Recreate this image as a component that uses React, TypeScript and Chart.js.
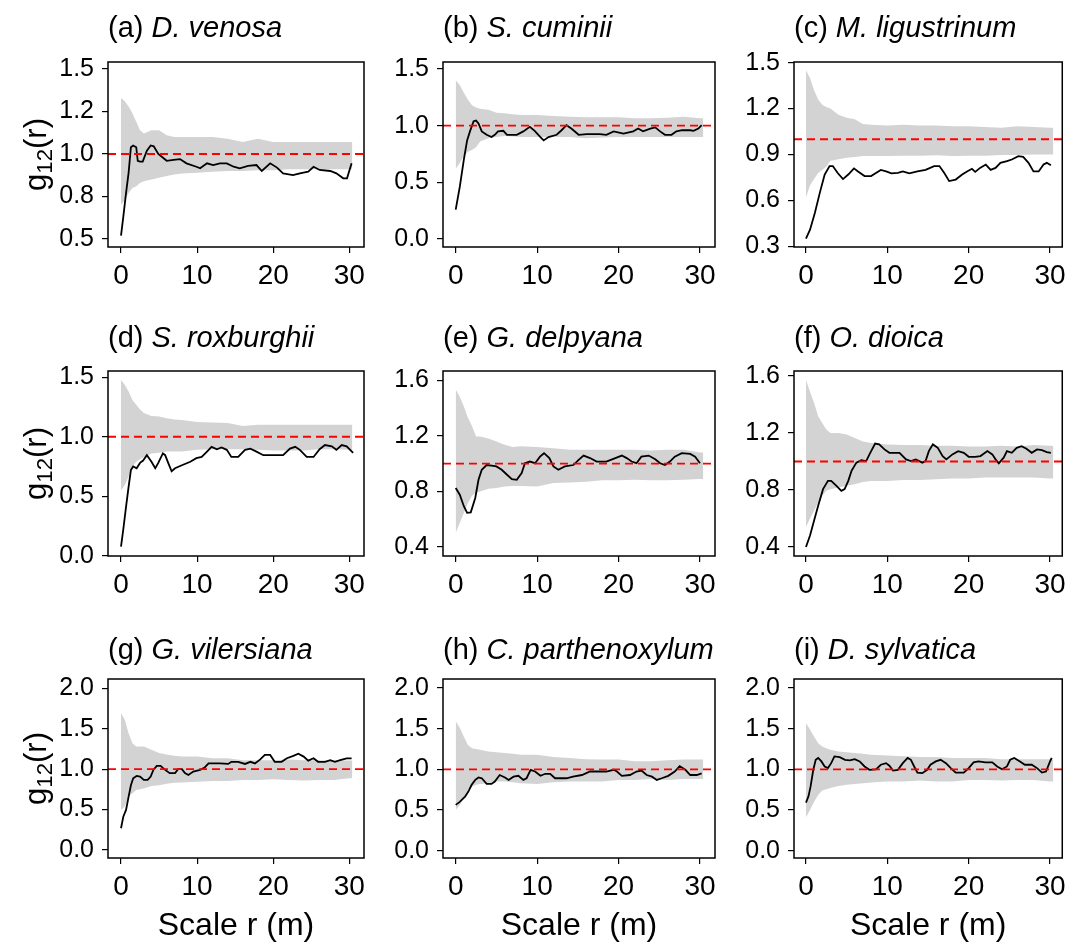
import React, { useEffect, useRef } from "react";
import { Chart, registerables } from "chart.js";

Chart.register(...registerables);

const FONT = "'Liberation Sans', Arial, sans-serif";

const X_TICKS = [0, 10, 20, 30];
const REF_VALUE = 1;
const ENV_R = [0, 0.5, 1, 1.5, 2, 2.5, 3, 4, 5, 6, 7, 8, 10, 12, 14, 16, 18, 20, 22, 24, 26, 28, 30, 30.4];

// (a) D. venosa
const A_R = [0, 0.3, 0.66, 1, 1.3, 1.6, 2, 2.2, 2.5, 2.85, 3.4, 3.9, 4.3, 4.9, 5.6, 6, 6.9, 7.75, 8.6, 9.9, 10.4, 11.3, 12.1, 13, 13.9, 14.8, 15.6, 16.7, 17.8, 18.5, 19.6, 20.5, 21.3, 22.6, 23.5, 24.6, 25.3, 26.1, 27.5, 28.3, 29.2, 29.7, 30.3];
const A_G = [0.52, 0.63, 0.77, 0.89, 1.04, 1.05, 1.04, 0.96, 0.955, 0.955, 1.02, 1.05, 1.045, 1.0, 0.975, 0.96, 0.965, 0.97, 0.945, 0.925, 0.916, 0.945, 0.935, 0.945, 0.945, 0.925, 0.916, 0.93, 0.935, 0.9, 0.945, 0.92, 0.886, 0.876, 0.886, 0.896, 0.925, 0.906, 0.9, 0.886, 0.857, 0.857, 0.945];
const A_HI = [1.33, 1.31, 1.28, 1.24, 1.19, 1.14, 1.12, 1.14, 1.14, 1.11, 1.1, 1.1, 1.1, 1.1, 1.09, 1.07, 1.09, 1.07, 1.07, 1.07, 1.07, 1.07, 1.07, 1.07];
const A_LO = [0.7, 0.73, 0.77, 0.8, 0.81, 0.83, 0.84, 0.85, 0.86, 0.87, 0.88, 0.885, 0.89, 0.895, 0.9, 0.9, 0.905, 0.905, 0.91, 0.91, 0.91, 0.91, 0.91, 0.91];
const A_YTICKS = [0.5, 0.75, 1.0, 1.25, 1.5];
const A_YLABELS = ["0.5", "0.8", "1.0", "1.2", "1.5"];

// (b) S. cuminii
const B_R = [0, 0.5, 1, 1.4, 1.75, 2.2, 2.5, 2.8, 3.2, 3.8, 4.4, 4.8, 5.2, 5.85, 6.3, 7.5, 8.3, 9.1, 9.7, 10.4, 10.8, 11.4, 12.4, 13, 13.6, 14.2, 15.1, 16.1, 17.7, 18.5, 19.4, 20.6, 21.8, 22.4, 23, 23.9, 24.5, 25.1, 25.7, 26.5, 27.1, 27.8, 28.8, 29.2, 29.8, 30.2];
const B_G = [0.26, 0.46, 0.7, 0.87, 0.95, 1.04, 1.045, 1.02, 0.95, 0.92, 0.9, 0.92, 0.95, 0.955, 0.92, 0.92, 0.95, 0.99, 0.955, 0.9, 0.87, 0.9, 0.92, 0.96, 1.005, 0.975, 0.92, 0.925, 0.925, 0.92, 0.95, 0.93, 0.95, 0.975, 0.95, 0.975, 0.985, 0.95, 0.92, 0.92, 0.95, 0.96, 0.96, 0.955, 0.975, 1.005];
const B_HI = [1.4, 1.36, 1.29, 1.23, 1.18, 1.16, 1.15, 1.14, 1.115, 1.11, 1.1, 1.095, 1.095, 1.085, 1.08, 1.075, 1.075, 1.075, 1.065, 1.065, 1.07, 1.08, 1.065, 1.065];
const B_LO = [0.62, 0.67, 0.73, 0.77, 0.785, 0.81, 0.86, 0.89, 0.9, 0.91, 0.905, 0.9, 0.9, 0.9, 0.9, 0.89, 0.895, 0.9, 0.9, 0.9, 0.9, 0.9, 0.9, 0.9];
const B_YTICKS = [0, 0.5, 1.0, 1.5];
const B_YLABELS = ["0.0", "0.5", "1.0", "1.5"];

// (c) M. ligustrinum
const C_R = [0, 0.5, 1.1, 1.7, 2.3, 2.9, 3.3, 3.9, 4.55, 5.2, 5.9, 6.4, 7.2, 8, 8.6, 9.2, 9.85, 10.5, 11.3, 11.9, 12.7, 13.7, 14.7, 15.75, 16.4, 17, 17.6, 18.4, 19.2, 19.8, 20.4, 20.8, 21.4, 22.1, 22.7, 23.3, 23.9, 24.7, 25.3, 26.1, 26.7, 27.35, 27.96, 28.6, 29.2, 29.6, 30.1];
const C_G = [0.352, 0.41, 0.52, 0.65, 0.77, 0.825, 0.825, 0.78, 0.74, 0.77, 0.81, 0.79, 0.76, 0.76, 0.78, 0.8, 0.79, 0.777, 0.78, 0.79, 0.777, 0.79, 0.8, 0.825, 0.825, 0.78, 0.727, 0.737, 0.77, 0.79, 0.807, 0.787, 0.813, 0.835, 0.8, 0.813, 0.846, 0.857, 0.868, 0.89, 0.885, 0.846, 0.79, 0.79, 0.835, 0.846, 0.83];
const C_HI = [1.45, 1.4, 1.32, 1.26, 1.225, 1.21, 1.2, 1.16, 1.14, 1.13, 1.1, 1.095, 1.09, 1.095, 1.09, 1.09, 1.085, 1.085, 1.08, 1.075, 1.085, 1.08, 1.075, 1.075];
const C_LO = [0.62, 0.7, 0.74, 0.78, 0.8, 0.82, 0.86, 0.87, 0.88, 0.885, 0.89, 0.89, 0.89, 0.893, 0.893, 0.895, 0.89, 0.893, 0.893, 0.897, 0.897, 0.9, 0.9, 0.9];
const C_YTICKS = [0.3, 0.6, 0.9, 1.2, 1.5];
const C_YLABELS = ["0.3", "0.6", "0.9", "1.2", "1.5"];

// (d) S. roxburghii
const D_R = [0, 0.3, 0.66, 1, 1.3, 1.6, 2.05, 2.5, 2.9, 3.4, 4, 4.5, 4.9, 5.5, 5.8, 6.2, 6.65, 7.1, 8, 9.1, 9.9, 10.6, 11.3, 11.9, 12.6, 13.2, 13.9, 14.5, 15.4, 16.3, 17, 17.8, 18.7, 20, 21.3, 22.2, 22.9, 23.5, 24.4, 25.3, 26.1, 26.8, 27.7, 28.3, 29, 29.65, 30.5];
const D_G = [0.076, 0.22, 0.41, 0.58, 0.72, 0.75, 0.735, 0.78, 0.8, 0.845, 0.79, 0.735, 0.78, 0.86, 0.845, 0.78, 0.71, 0.735, 0.76, 0.79, 0.82, 0.83, 0.875, 0.915, 0.895, 0.91, 0.89, 0.83, 0.83, 0.89, 0.9, 0.875, 0.845, 0.845, 0.845, 0.9, 0.915, 0.89, 0.83, 0.83, 0.895, 0.93, 0.92, 0.89, 0.93, 0.92, 0.865];
const D_HI = [1.48, 1.435, 1.38, 1.31, 1.27, 1.23, 1.2, 1.175, 1.17, 1.155, 1.145, 1.14, 1.125, 1.12, 1.115, 1.09, 1.1, 1.1, 1.1, 1.1, 1.1, 1.1, 1.1, 1.1];
const D_LO = [0.55, 0.595, 0.665, 0.75, 0.79, 0.81, 0.83, 0.86, 0.865, 0.875, 0.875, 0.875, 0.89, 0.895, 0.895, 0.895, 0.89, 0.885, 0.885, 0.885, 0.895, 0.895, 0.89, 0.89];
const D_YTICKS = [0, 0.5, 1.0, 1.5];
const D_YLABELS = ["0.0", "0.5", "1.0", "1.5"];

// (e) G. delpyana
const E_R = [0, 0.5, 1, 1.4, 1.85, 2.4, 2.8, 3.2, 3.8, 4.4, 5, 5.65, 6.3, 6.9, 7.5, 8.1, 8.5, 9.1, 9.75, 10.35, 10.85, 11.5, 12, 12.6, 13.4, 14.45, 15.1, 15.7, 16.5, 17.3, 18.5, 19.6, 20.4, 21, 21.6, 22.2, 22.8, 23.7, 24.5, 25.1, 25.7, 26.3, 26.9, 27.75, 28.8, 29.4, 30];
const E_G = [0.825, 0.777, 0.694, 0.646, 0.65, 0.753, 0.884, 0.956, 0.99, 0.985, 0.98, 0.956, 0.92, 0.889, 0.884, 0.932, 1.003, 1.015, 1.003, 1.05, 1.075, 1.04, 0.98, 0.956, 0.98, 0.99, 1.027, 1.058, 1.04, 1.015, 1.015, 1.04, 1.058, 1.04, 1.015, 1.003, 1.05, 1.058, 1.032, 1.003, 0.99, 1.015, 1.05, 1.075, 1.07, 1.05, 1.003];
const E_HI = [1.533, 1.48, 1.41, 1.33, 1.27, 1.195, 1.195, 1.18, 1.16, 1.135, 1.12, 1.125, 1.12, 1.11, 1.1, 1.1, 1.1, 1.1, 1.1, 1.094, 1.1, 1.1, 1.08, 1.08];
const E_LO = [0.503, 0.574, 0.645, 0.717, 0.77, 0.79, 0.8, 0.82, 0.825, 0.835, 0.84, 0.84, 0.835, 0.86, 0.865, 0.87, 0.88, 0.88, 0.885, 0.88, 0.88, 0.885, 0.89, 0.89];
const E_YTICKS = [0.4, 0.8, 1.2, 1.6];
const E_YLABELS = ["0.4", "0.8", "1.2", "1.6"];

// (f) O. dioica
const F_R = [0, 0.5, 1, 1.5, 2.1, 2.7, 3.1, 3.75, 4.35, 4.75, 5.2, 5.6, 6.2, 6.8, 7.4, 7.9, 8.5, 9, 9.65, 10.25, 11.5, 12.3, 12.9, 13.5, 14.3, 14.7, 15.1, 15.6, 16.2, 16.8, 17.25, 18, 18.7, 19.4, 20, 20.8, 21.45, 22.3, 22.9, 23.3, 23.7, 24.3, 24.7, 25.3, 25.9, 26.5, 27.1, 27.75, 28.4, 29, 29.6, 30.1];
const F_G = [0.4, 0.481, 0.586, 0.69, 0.806, 0.864, 0.864, 0.829, 0.794, 0.806, 0.864, 0.934, 0.992, 1.01, 1.003, 1.061, 1.126, 1.12, 1.085, 1.061, 1.061, 1.015, 1.003, 1.015, 0.992, 1.003, 1.073, 1.12, 1.096, 1.038, 1.015, 1.05, 1.073, 1.061, 1.033, 1.033, 1.038, 1.073, 1.05, 1.015, 0.987, 1.027, 1.073, 1.061, 1.096, 1.108, 1.09, 1.061, 1.085, 1.08, 1.066, 1.061];
const F_HI = [1.572, 1.49, 1.41, 1.317, 1.27, 1.225, 1.2, 1.2, 1.19, 1.165, 1.14, 1.13, 1.12, 1.115, 1.115, 1.11, 1.11, 1.105, 1.105, 1.11, 1.105, 1.115, 1.11, 1.11];
const F_LO = [0.54, 0.6, 0.655, 0.713, 0.76, 0.795, 0.806, 0.818, 0.83, 0.84, 0.857, 0.864, 0.864, 0.871, 0.871, 0.875, 0.88, 0.88, 0.887, 0.887, 0.887, 0.887, 0.88, 0.88];
const F_YTICKS = [0.4, 0.8, 1.2, 1.6];
const F_YLABELS = ["0.4", "0.8", "1.2", "1.6"];

// (g) G. vilersiana
const G_R = [0, 0.3, 0.66, 1, 1.3, 1.6, 2.05, 2.5, 3, 3.5, 3.9, 4.25, 4.7, 5.2, 5.8, 6.4, 7.1, 7.5, 8, 8.4, 8.85, 9.5, 10.4, 11, 11.5, 13, 14.1, 14.5, 15.4, 16.3, 17, 17.6, 18.3, 18.9, 19.6, 20.2, 21.1, 21.8, 22.65, 23.3, 24, 24.6, 25.3, 25.9, 26.8, 27.5, 28.1, 28.8, 29.65, 30.3];
const G_G = [0.268, 0.41, 0.495, 0.66, 0.8, 0.886, 0.915, 0.907, 0.866, 0.866, 0.907, 0.99, 1.04, 1.04, 0.99, 0.95, 0.95, 1.0, 1.0, 0.95, 0.928, 0.97, 0.99, 1.02, 1.07, 1.07, 1.064, 1.09, 1.09, 1.064, 1.09, 1.07, 1.12, 1.175, 1.175, 1.09, 1.09, 1.134, 1.163, 1.19, 1.155, 1.105, 1.134, 1.09, 1.09, 1.11, 1.09, 1.11, 1.134, 1.134];
const G_HI = [1.69, 1.61, 1.44, 1.32, 1.28, 1.28, 1.28, 1.24, 1.2, 1.18, 1.165, 1.155, 1.155, 1.134, 1.134, 1.11, 1.11, 1.11, 1.12, 1.11, 1.11, 1.105, 1.105, 1.105];
const G_LO = [0.495, 0.536, 0.66, 0.7, 0.74, 0.75, 0.76, 0.79, 0.8, 0.82, 0.83, 0.835, 0.845, 0.853, 0.853, 0.866, 0.866, 0.874, 0.866, 0.86, 0.866, 0.866, 0.886, 0.886];
const G_YTICKS = [0, 0.5, 1.0, 1.5, 2.0];
const G_YLABELS = ["0.0", "0.5", "1.0", "1.5", "2.0"];

// (h) C. parthenoxylum
const H_R = [0, 0.5, 1.15, 1.55, 1.96, 2.4, 2.8, 3.2, 3.8, 4.4, 4.8, 5.4, 6.05, 6.5, 7.1, 7.7, 8.3, 8.7, 9.2, 9.75, 10.4, 11, 11.6, 12.2, 13.6, 14.4, 15.5, 16.5, 18.5, 19.4, 19.8, 20.4, 21.4, 22.2, 22.8, 23.45, 24.1, 24.7, 25.3, 26.1, 26.9, 27.5, 28.2, 28.8, 29.6, 30.2];
const H_G = [0.563, 0.6, 0.665, 0.727, 0.81, 0.87, 0.9, 0.89, 0.82, 0.82, 0.85, 0.93, 0.9, 0.87, 0.91, 0.92, 0.87, 0.89, 0.994, 0.973, 0.92, 0.945, 0.945, 0.89, 0.89, 0.91, 0.93, 0.973, 0.973, 0.994, 0.973, 0.92, 0.93, 0.973, 0.985, 0.93, 0.91, 0.87, 0.89, 0.92, 0.973, 1.04, 0.994, 0.93, 0.93, 0.95];
const H_HI = [1.59, 1.51, 1.4, 1.3, 1.26, 1.25, 1.24, 1.22, 1.21, 1.2, 1.19, 1.18, 1.18, 1.15, 1.14, 1.125, 1.12, 1.12, 1.1, 1.1, 1.11, 1.12, 1.12, 1.12];
const H_LO = [0.5, 0.56, 0.665, 0.75, 0.79, 0.81, 0.82, 0.83, 0.85, 0.85, 0.84, 0.83, 0.82, 0.84, 0.85, 0.85, 0.85, 0.87, 0.87, 0.88, 0.87, 0.88, 0.88, 0.88];
const H_YTICKS = [0, 0.5, 1.0, 1.5, 2.0];
const H_YLABELS = ["0.0", "0.5", "1.0", "1.5", "2.0"];

// (i) D. sylvatica
const I_R = [0, 0.3, 0.57, 0.9, 1.2, 1.5, 1.9, 2.3, 2.7, 3.1, 3.5, 4.15, 4.8, 5.4, 6, 6.6, 7.2, 7.8, 8.6, 9.2, 9.85, 10.25, 10.7, 11.3, 11.9, 12.5, 12.9, 13.3, 13.7, 14.3, 14.9, 15.3, 15.95, 16.55, 17.2, 17.8, 18.4, 19.4, 20, 20.6, 21.2, 22.05, 22.9, 23.5, 24.1, 24.7, 25.1, 25.6, 26.3, 26.9, 27.75, 28.4, 29, 29.5, 30, 30.2];
const I_G = [0.59, 0.665, 0.79, 0.994, 1.117, 1.14, 1.097, 1.035, 1.015, 1.076, 1.158, 1.15, 1.117, 1.11, 1.125, 1.097, 1.035, 0.994, 1.0, 1.056, 1.076, 1.044, 0.985, 0.994, 1.076, 1.14, 1.117, 1.035, 0.96, 0.953, 0.994, 1.056, 1.097, 1.117, 1.076, 1.015, 0.96, 0.96, 1.015, 1.085, 1.097, 1.085, 1.085, 1.035, 1.0, 1.035, 1.117, 1.14, 1.097, 1.056, 1.056, 1.015, 0.96, 0.973, 1.097, 1.14];
const I_HI = [1.57, 1.49, 1.4, 1.32, 1.28, 1.26, 1.24, 1.22, 1.21, 1.2, 1.19, 1.18, 1.17, 1.16, 1.15, 1.15, 1.14, 1.14, 1.14, 1.125, 1.125, 1.125, 1.125, 1.125];
const I_LO = [0.41, 0.5, 0.6, 0.685, 0.74, 0.755, 0.77, 0.795, 0.81, 0.82, 0.83, 0.838, 0.85, 0.85, 0.862, 0.85, 0.85, 0.87, 0.87, 0.862, 0.87, 0.87, 0.85, 0.85];
const I_YTICKS = [0, 0.5, 1.0, 1.5, 2.0];
const I_YLABELS = ["0.0", "0.5", "1.0", "1.5", "2.0"];

const LETTERS = ["(a)", "(b)", "(c)", "(d)", "(e)", "(f)", "(g)", "(h)", "(i)"];
const SPECIES = ["D. venosa", "S. cuminii", "M. ligustrinum", "S. roxburghii", "G. delpyana", "O. dioica", "G. vilersiana", "C. parthenoxylum", "D. sylvatica"];
const Y_TITLE_MAIN = "g";
const Y_TITLE_SUB = "12";
const Y_TITLE_END = "(r)";
const X_TITLE = "Scale r (m)";

const SERIES = [
  { r: A_R, g: A_G, hi: A_HI, lo: A_LO, ticks: A_YTICKS, labels: A_YLABELS, ymin: 0.453, ymax: 1.541 },
  { r: B_R, g: B_G, hi: B_HI, lo: B_LO, ticks: B_YTICKS, labels: B_YLABELS, ymin: -0.07, ymax: 1.562 },
  { r: C_R, g: C_G, hi: C_HI, lo: C_LO, ticks: C_YTICKS, labels: C_YLABELS, ymin: 0.297, ymax: 1.504 },
  { r: D_R, g: D_G, hi: D_HI, lo: D_LO, ticks: D_YTICKS, labels: D_YLABELS, ymin: -0.003, ymax: 1.553 },
  { r: E_R, g: E_G, hi: E_HI, lo: E_LO, ticks: E_YTICKS, labels: E_YLABELS, ymin: 0.336, ymax: 1.666 },
  { r: F_R, g: F_G, hi: F_HI, lo: F_LO, ticks: F_YTICKS, labels: F_YLABELS, ymin: 0.337, ymax: 1.635 },
  { r: G_R, g: G_G, hi: G_HI, lo: G_LO, ticks: G_YTICKS, labels: G_YLABELS, ymin: -0.1, ymax: 2.115 },
  { r: H_R, g: H_G, hi: H_HI, lo: H_LO, ticks: H_YTICKS, labels: H_YLABELS, ymin: -0.09, ymax: 2.11 },
  { r: I_R, g: I_G, hi: I_HI, lo: I_LO, ticks: I_YTICKS, labels: I_YLABELS, ymin: -0.09, ymax: 2.11 },
];

// layout (pixels)
const COLS = [
  { cl: 0, cw: 372, boxL: 108, boxR: 364, xmin: -1.71, xmax: 31.93 },
  { cl: 372, cw: 350, boxL: 443, boxR: 715, xmin: -1.56, xmax: 31.84 },
  { cl: 722, cw: 350, boxL: 794, boxR: 1064, xmin: -1.47, xmax: 31.5 },
];
const ROWS = [
  { ct: 0, ch: 300, boxT: 62, boxB: 247, titleOff: 33 },
  { ct: 300, ch: 310, boxT: 371, boxB: 556, titleOff: 32 },
  { ct: 610, ch: 332, boxT: 679, boxB: 858, titleOff: 28 },
];

const TITLE_SIZE = 29;
const YTICK_SIZE = 25;
const XTICK_SIZE = 28;
const X_TITLE_SIZE = 32;
const Y_TITLE_SIZE = 31;

function Panel({ idx }: { idx: number }) {
  const ref = useRef<HTMLCanvasElement | null>(null);
  const col = COLS[idx % 3];
  const row = ROWS[Math.floor(idx / 3)];
  useEffect(() => {
    const s = SERIES[idx];
    const env = ENV_R.map((r, i) => ({ x: r, y: s.hi[i] }));
    const envLo = ENV_R.map((r, i) => ({ x: r, y: s.lo[i] }));
    const obs = s.r.map((r, i) => ({ x: r, y: s.g[i] }));
    const isLeft = idx % 3 === 0;
    const isBottom = Math.floor(idx / 3) === 2;

    const decor = {
      id: "decor" + idx,
      afterDatasetsDraw(chart: any) {
        const { ctx, chartArea: ca, scales } = chart;
        const py = scales.y.getPixelForValue(REF_VALUE);
        ctx.save();
        ctx.strokeStyle = "#ff0000";
        ctx.lineWidth = 1.8;
        ctx.setLineDash([8, 5]);
        ctx.beginPath();
        ctx.moveTo(ca.left, py);
        ctx.lineTo(ca.right, py);
        ctx.stroke();
        ctx.restore();
        ctx.save();
        ctx.strokeStyle = "#000";
        ctx.lineWidth = 1.5;
        ctx.strokeRect(ca.left, ca.top, ca.right - ca.left, ca.bottom - ca.top);
        ctx.restore();
      },
      afterDraw(chart: any) {
        const { ctx, chartArea: ca } = chart;
        ctx.save();
        ctx.fillStyle = "#000";
        ctx.textBaseline = "middle";
        ctx.textAlign = "left";
        const ty = ca.top - row.titleOff;
        ctx.font = `${TITLE_SIZE}px ${FONT}`;
        const lead = LETTERS[idx] + " ";
        ctx.fillText(lead, ca.left, ty);
        const w = ctx.measureText(lead).width;
        ctx.font = `italic ${TITLE_SIZE}px ${FONT}`;
        ctx.fillText(SPECIES[idx], ca.left + w, ty);
        if (isLeft) {
          const cy = (ca.top + ca.bottom) / 2;
          ctx.translate(36, cy);
          ctx.rotate(-Math.PI / 2);
          ctx.font = `${Y_TITLE_SIZE}px ${FONT}`;
          const w1 = ctx.measureText(Y_TITLE_MAIN).width;
          ctx.font = `${Y_TITLE_SIZE * 0.72}px ${FONT}`;
          const w2 = ctx.measureText(Y_TITLE_SUB).width;
          ctx.font = `${Y_TITLE_SIZE}px ${FONT}`;
          const w3 = ctx.measureText(Y_TITLE_END).width;
          const tot = w1 + w2 + w3;
          let x0 = -tot / 2;
          ctx.textBaseline = "alphabetic";
          const base = 10;
          ctx.fillText(Y_TITLE_MAIN, x0, base);
          x0 += w1;
          ctx.font = `${Y_TITLE_SIZE * 0.72}px ${FONT}`;
          ctx.fillText(Y_TITLE_SUB, x0, base + 6);
          x0 += w2;
          ctx.font = `${Y_TITLE_SIZE}px ${FONT}`;
          ctx.fillText(Y_TITLE_END, x0, base);
          ctx.setTransform(1, 0, 0, 1, 0, 0);
        }
        if (isBottom) {
          ctx.font = `${X_TITLE_SIZE}px ${FONT}`;
          ctx.textAlign = "center";
          ctx.textBaseline = "alphabetic";
          ctx.fillText(X_TITLE, (ca.left + ca.right) / 2, 935 - row.ct);
        }
        ctx.restore();
      },
    };

    const chart = new Chart(ref.current as HTMLCanvasElement, {
      type: "line",
      data: {
        datasets: [
          {
            data: obs,
            borderWidth: 1.8,
            borderColor: "#000000",
            pointRadius: 0,
            fill: false,
            tension: 0,
            order: 0,
          },
          {
            data: env,
            borderWidth: 0,
            borderColor: "rgba(0,0,0,0)",
            backgroundColor: "#d3d3d3",
            pointRadius: 0,
            fill: "+1",
            tension: 0,
            order: 2,
          },
          {
            data: envLo,
            borderWidth: 0,
            borderColor: "rgba(0,0,0,0)",
            backgroundColor: "#d3d3d3",
            pointRadius: 0,
            fill: false,
            tension: 0,
            order: 3,
          },
        ],
      },
      options: {
        animation: false,
        responsive: false,
        events: [],
        layout: {
          padding: {
            top: row.boxT - row.ct,
            right: col.cl + col.cw - col.boxR,
            left: 0,
            bottom: 0,
          },
        },
        plugins: { legend: { display: false }, tooltip: { enabled: false }, title: { display: false } },
        scales: {
          x: {
            type: "linear",
            min: col.xmin,
            max: col.xmax,
            afterBuildTicks: (sc: any) => {
              sc.ticks = X_TICKS.map((v) => ({ value: v }));
            },
            afterFit: (sc: any) => {
              sc.height = row.ct + row.ch - row.boxB;
            },
            grid: { display: true, drawOnChartArea: false, drawTicks: true, tickLength: 6, color: "#000", lineWidth: 1.2 },
            border: { display: false },
            ticks: {
              font: { family: FONT, size: XTICK_SIZE },
              color: "#000",
              padding: 6,
              maxRotation: 0,
              autoSkip: false,
              callback: (v: any) => String(v),
            },
          },
          y: {
            type: "linear",
            min: s.ymin,
            max: s.ymax,
            afterBuildTicks: (sc: any) => {
              sc.ticks = s.ticks.map((v) => ({ value: v }));
            },
            afterFit: (sc: any) => {
              sc.width = col.boxL - col.cl;
            },
            grid: { display: true, drawOnChartArea: false, drawTicks: true, tickLength: 6, color: "#000", lineWidth: 1.2 },
            border: { display: false },
            ticks: {
              font: { family: FONT, size: YTICK_SIZE },
              color: "#000",
              padding: 8,
              autoSkip: false,
              callback: (_v: any, i: number) => s.labels[i],
            },
          },
        },
      },
      plugins: [decor],
    } as any);
    return () => chart.destroy();
  }, [idx]);

  return (
    <canvas
      ref={ref}
      width={col.cw}
      height={row.ch}
      style={{ position: "absolute", left: col.cl, top: row.ct, width: col.cw, height: row.ch }}
    />
  );
}

export default function App() {
  return (
    <div style={{ position: "absolute", left: 0, top: 0, width: 1072, height: 942, background: "#fff", overflow: "hidden" }}>
      {SERIES.map((_, i) => (
        <Panel key={i} idx={i} />
      ))}
    </div>
  );
}
